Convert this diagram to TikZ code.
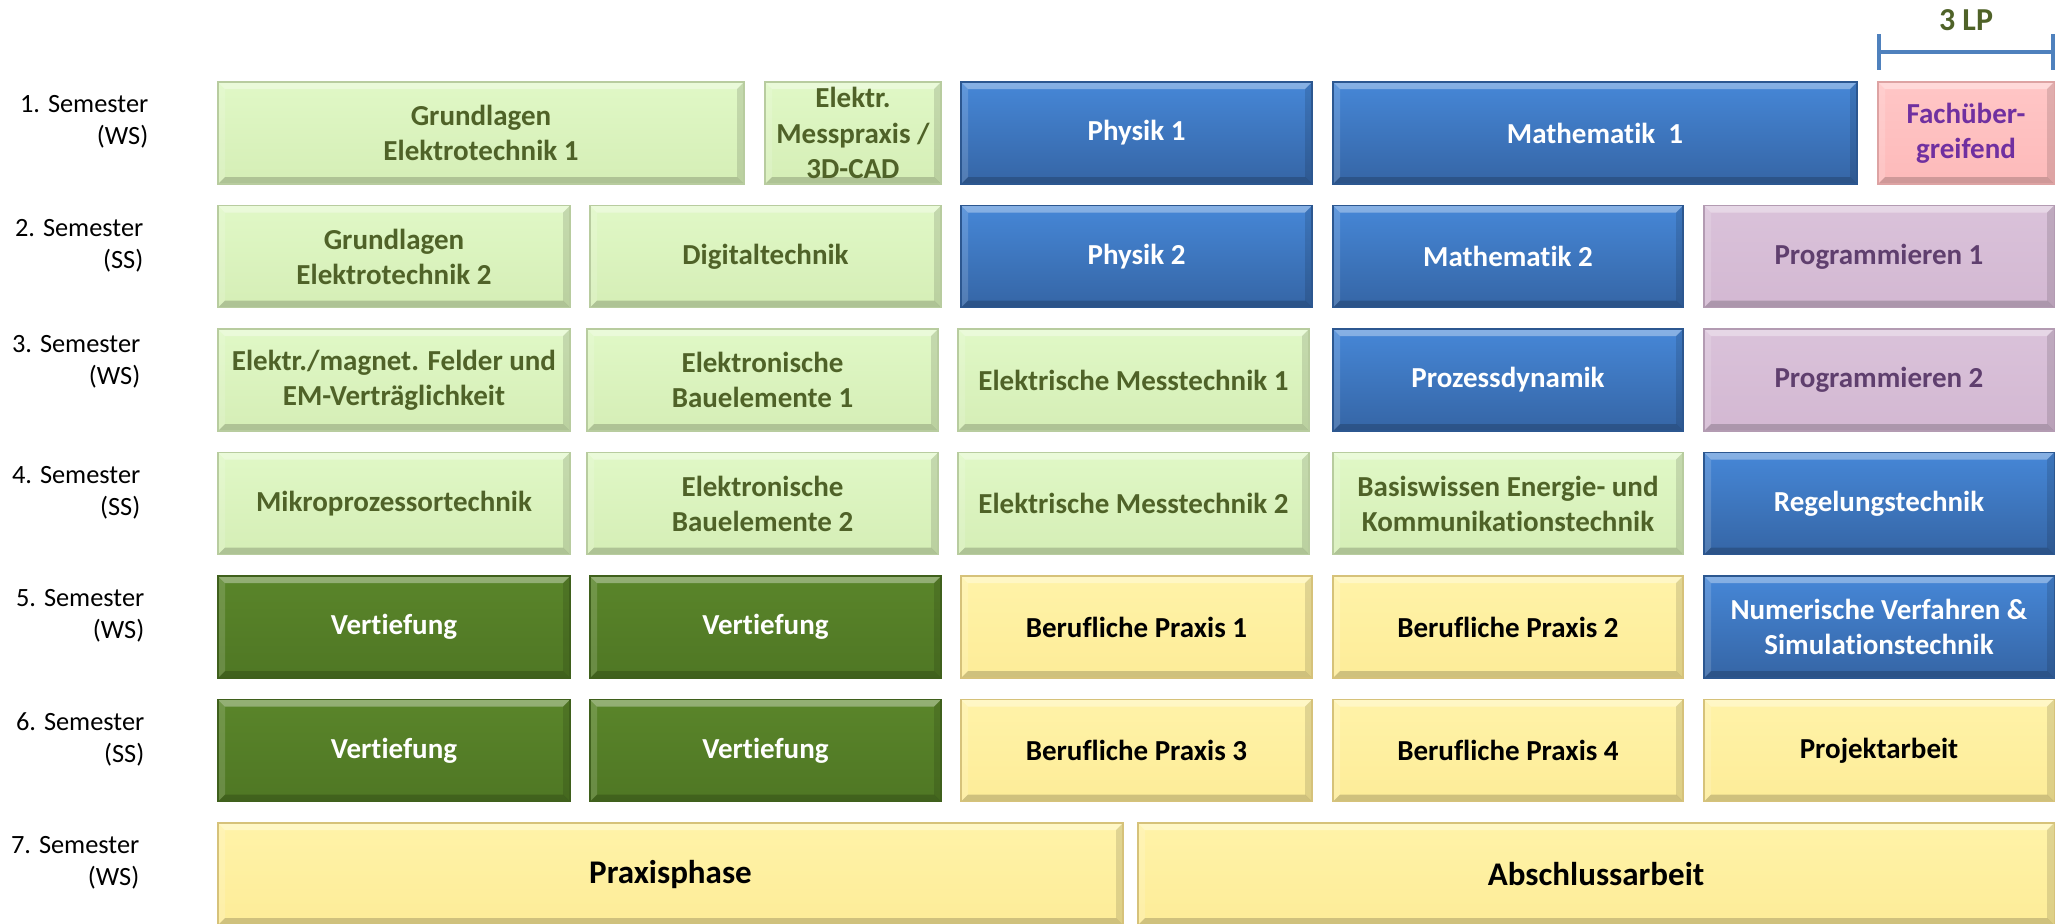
\documentclass[tikz,border=0pt]{standalone}
\usepackage{fontspec}
\setmainfont{Carlito}[Ligatures=NoCommon]
\definecolor{hgruenO}{HTML}{E0F8C6}
\definecolor{hgruenU}{HTML}{D5EEB6}
\definecolor{hgruenR}{HTML}{B8CC9F}
\definecolor{gruenText}{HTML}{4F6228}
\definecolor{blauO}{HTML}{4687D7}
\definecolor{blauU}{HTML}{3565A5}
\definecolor{blauR}{HTML}{2C5790}
\definecolor{rosaO}{HTML}{FFC6C6}
\definecolor{rosaU}{HTML}{FDBABA}
\definecolor{rosaR}{HTML}{DDA3A3}
\definecolor{lilaText}{HTML}{7030A0}
\definecolor{fliederO}{HTML}{DAC2DA}
\definecolor{fliederU}{HTML}{D3B8D2}
\definecolor{fliederR}{HTML}{B39BB2}
\definecolor{fliederText}{HTML}{5F3F6E}
\definecolor{dgruenO}{HTML}{5A852A}
\definecolor{dgruenU}{HTML}{4F7724}
\definecolor{dgruenR}{HTML}{3F601C}
\definecolor{gelbO}{HTML}{FFF3A8}
\definecolor{gelbU}{HTML}{FDEC98}
\definecolor{gelbR}{HTML}{D6C27A}
\definecolor{lpBlau}{HTML}{4F81BD}
\begin{document}
\begin{tikzpicture}[
	bevel/.style={path picture={
		\fill[white,opacity=.35] (path picture bounding box.north west) -- (path picture bounding box.north east) -- ([xshift=-0.07cm,yshift=-0.07cm]path picture bounding box.north east) -- ([xshift=0.07cm,yshift=-0.07cm]path picture bounding box.north west) -- cycle;
		\fill[white,opacity=.15] (path picture bounding box.north west) -- (path picture bounding box.south west) -- ([xshift=0.07cm,yshift=0.07cm]path picture bounding box.south west) -- ([xshift=0.07cm,yshift=-0.07cm]path picture bounding box.north west) -- cycle;
		\fill[black,opacity=.12] (path picture bounding box.north east) -- (path picture bounding box.south east) -- ([xshift=-0.07cm,yshift=0.07cm]path picture bounding box.south east) -- ([xshift=-0.07cm,yshift=-0.07cm]path picture bounding box.north east) -- cycle;
		\fill[black,opacity=.18] (path picture bounding box.south west) -- (path picture bounding box.south east) -- ([xshift=-0.07cm,yshift=0.07cm]path picture bounding box.south east) -- ([xshift=0.07cm,yshift=0.07cm]path picture bounding box.south west) -- cycle;
	}},
	modul/.style={rectangle, inner sep=0pt, minimum height=1.02cm, align=center, line width=0.3pt, font=\bfseries\fontsize{8.25}{10}\selectfont, bevel},
	hell/.style={modul, top color=hgruenO, bottom color=hgruenU, draw=hgruenR, text=gruenText},
	blau/.style={modul, top color=blauO, bottom color=blauU, draw=blauR, text=white},
	rosa/.style={modul, top color=rosaO, bottom color=rosaU, draw=rosaR, text=lilaText},
	flieder/.style={modul, top color=fliederO, bottom color=fliederU, draw=fliederR, text=fliederText},
	dunkel/.style={modul, top color=dgruenO, bottom color=dgruenU, draw=dgruenR, text=white},
	gelb/.style={modul, top color=gelbO, bottom color=gelbU, draw=gelbR, text=black},
	sem/.style={anchor=east, inner sep=0pt, align=right, font=\fontsize{7.5}{9.1}\selectfont},
	lp/.style={lpBlau, line width=1.15pt}
]
	\useasboundingbox (0,0) rectangle (20.64,-9.23);
	%1. semester
	\node[sem] (s1) at (1.49,-1.22) {1. Semester\\(WS)};
	\node[hell, minimum width=5.26cm] (get1) at (4.81,-1.33) {Grundlagen\\Elektrotechnik 1};
	\node[hell, minimum width=1.76cm] (mess) at (8.53,-1.33) {Elektr.\\Messpraxis /\\3D-CAD};
	\node[blau, minimum width=3.51cm] (phy1) at (11.365,-1.33) {Physik 1};
	\node[blau, minimum width=5.24cm] (mat1) at (15.95,-1.33) {Mathematik~~1};
	\node[rosa, minimum width=1.76cm] (fach) at (19.66,-1.33) {Fachüber-\\greifend};
	%2. semester
	\node[sem] (s2) at (1.44,-2.455) {2. Semester\\(SS)};
	\node[hell, minimum width=3.52cm] (get2) at (3.94,-2.565) {Grundlagen\\Elektrotechnik 2};
	\node[hell, minimum width=3.51cm] (dig) at (7.655,-2.565) {Digitaltechnik};
	\node[blau, minimum width=3.51cm] (phy2) at (11.365,-2.565) {Physik 2};
	\node[blau, minimum width=3.50cm] (mat2) at (15.08,-2.565) {Mathematik 2};
	\node[flieder, minimum width=3.50cm] (prog1) at (18.79,-2.565) {Programmieren 1};
	%3. semester
	\node[sem] (s3) at (1.41,-3.62) {3. Semester\\(WS)};
	\node[hell, minimum width=3.52cm] (feld) at (3.94,-3.80) {Elektr./magnet. Felder und\\EM-Verträglichkeit};
	\node[hell, minimum width=3.51cm] (bau1) at (7.625,-3.80) {Elektronische\\Bauelemente 1};
	\node[hell, minimum width=3.51cm] (emt1) at (11.335,-3.80) {Elektrische Messtechnik 1};
	\node[blau, minimum width=3.50cm] (proz) at (15.08,-3.80) {Prozessdynamik};
	\node[flieder, minimum width=3.50cm] (prog2) at (18.79,-3.80) {Programmieren 2};
	%4. semester
	\node[sem] (s4) at (1.41,-4.925) {4. Semester\\(SS)};
	\node[hell, minimum width=3.52cm] (mikro) at (3.94,-5.035) {Mikroprozessortechnik};
	\node[hell, minimum width=3.51cm] (bau2) at (7.625,-5.035) {Elektronische\\Bauelemente 2};
	\node[hell, minimum width=3.51cm] (emt2) at (11.335,-5.035) {Elektrische Messtechnik 2};
	\node[hell, minimum width=3.50cm] (basis) at (15.08,-5.035) {Basiswissen Energie- und\\Kommunikationstechnik};
	\node[blau, minimum width=3.50cm] (regel) at (18.79,-5.035) {Regelungstechnik};
	%5. semester
	\node[sem] (s5) at (1.45,-6.16) {5. Semester\\(WS)};
	\node[dunkel, minimum width=3.52cm] (vt1) at (3.94,-6.27) {Vertiefung};
	\node[dunkel, minimum width=3.51cm] (vt2) at (7.655,-6.27) {Vertiefung};
	\node[gelb, minimum width=3.51cm] (bp1) at (11.365,-6.27) {Berufliche Praxis 1};
	\node[gelb, minimum width=3.50cm] (bp2) at (15.08,-6.27) {Berufliche Praxis 2};
	\node[blau, minimum width=3.50cm] (num) at (18.79,-6.27) {Numerische Verfahren \&\\Simulationstechnik};
	%6. semester
	\node[sem] (s6) at (1.45,-7.395) {6. Semester\\(SS)};
	\node[dunkel, minimum width=3.52cm] (vt3) at (3.94,-7.505) {Vertiefung};
	\node[dunkel, minimum width=3.51cm] (vt4) at (7.655,-7.505) {Vertiefung};
	\node[gelb, minimum width=3.51cm] (bp3) at (11.365,-7.505) {Berufliche Praxis 3};
	\node[gelb, minimum width=3.50cm] (bp4) at (15.08,-7.505) {Berufliche Praxis 4};
	\node[gelb, minimum width=3.50cm] (proj) at (18.79,-7.505) {Projektarbeit};
	%7. semester
	\node[sem] (s7) at (1.40,-8.63) {7. Semester\\(WS)};
	\node[gelb, minimum width=9.05cm, font=\bfseries\fontsize{9.4}{11}\selectfont] (praxis) at (6.705,-8.74) {Praxisphase};
	\node[gelb, minimum width=9.16cm, font=\bfseries\fontsize{9.4}{11}\selectfont] (bach) at (15.96,-8.74) {Abschlussarbeit};
	%massstab
	\coordinate (lpL) at (18.785,-0.52);
	\coordinate (lpR) at (20.53,-0.52);
	\draw[lp] (lpL) -- (lpR);
	\draw[lp] ([yshift=0.18cm]lpL) -- ([yshift=-0.18cm]lpL);
	\draw[lp] ([yshift=0.18cm]lpR) -- ([yshift=-0.18cm]lpR);
	\node[anchor=base, inner sep=0pt, text=gruenText, font=\bfseries\fontsize{9.1}{11}\selectfont] (lp3) at (19.66,-0.30) {3 LP};
\end{tikzpicture}
\end{document}
